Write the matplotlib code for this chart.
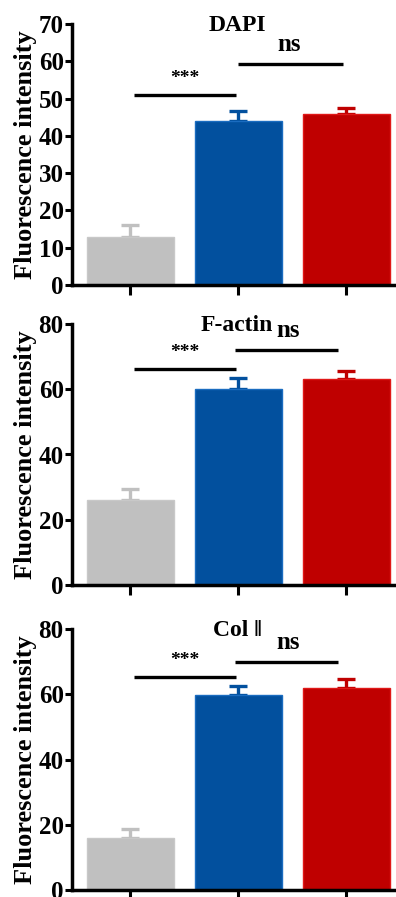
#!/usr/bin/env python3
"""Fluorescence intensity bar panels (DAPI, F-actin, Col II)."""

import matplotlib
matplotlib.use("Agg")
import matplotlib.pyplot as plt

# ---------------------------------------------------------------------
# Data
# ---------------------------------------------------------------------
titles = ["DAPI", "F-actin", "Col \u2016"]
groups = ["Control", "Group A", "Group B"]
means = [
    [12.8, 43.9, 45.9],
    [26.0, 60.0, 63.0],
    [15.9, 59.9, 61.9],
]
errs = [
    [3.4, 2.7, 1.6],
    [3.3, 3.3, 2.5],
    [2.7, 2.5, 2.8],
]
ylims = [70, 80, 80]
ytick_steps = [10, 20, 20]
# significance brackets: (y of *** line, y of ns line)
sig_star_y = [51.0, 66.3, 65.2]
sig_ns_y = [59.2, 72.1, 70.0]

colors = ["#C0C0C0", "#02509E", "#BF0000"]
edges = ["#C8C8C8", "#1A6CC0", "#E01818"]

plt.rcParams["font.family"] = ["Liberation Serif", "DejaVu Serif"]
plt.rcParams["font.weight"] = "bold"

W, H = 396, 897
fig = plt.figure(figsize=(W / 100, H / 100), dpi=100)

# axes rows in pixels: (top, bottom)
rows = [(24, 285), (324, 585), (629, 890)]
left_px = 72
ax_w_px = W - left_px

for i, (top, bot) in enumerate(rows):
    ax = fig.add_axes([left_px / W, 1 - bot / H, ax_w_px / W, (bot - top) / H])
    x = list(range(len(groups)))
    ax.bar(x, means[i], width=0.8, color=colors, edgecolor=edges,
           linewidth=1.0, zorder=2)
    for xi, m, e, c in zip(x, means[i], errs[i], colors):
        ax.errorbar(xi, m, yerr=[[0], [e]], fmt="none", ecolor=c,
                    elinewidth=2.4, capsize=6.5, capthick=2.4, zorder=1)

    ax.set_xlim(-0.54, 2.46)
    ax.set_ylim(0, ylims[i])
    ax.set_yticks(range(0, ylims[i] + 1, ytick_steps[i]))
    ax.set_xticks(x)
    ax.set_xticklabels([])

    for s in ["top", "right"]:
        ax.spines[s].set_visible(False)
    for s in ["left", "bottom"]:
        ax.spines[s].set_linewidth(2.5)
    ax.tick_params(axis="y", width=2.2, length=5, labelsize=18, pad=1)
    ax.tick_params(axis="x", width=2.2, length=7)
    for lab in ax.get_yticklabels():
        lab.set_fontweight("bold")

    ax.set_ylabel("Fluorescence intensity", fontsize=19, fontweight="bold")
    ax.yaxis.set_label_coords(-35 / ax_w_px, 0.5)
    ax.text(0.51, 0.975, titles[i], transform=ax.transAxes, ha="center",
            va="baseline", fontsize=17, fontweight="bold")

    # significance lines
    ys = sig_star_y[i]
    yn = sig_ns_y[i]
    ax.plot([0.03, 0.98], [ys, ys], color="black", lw=2.4, solid_capstyle="butt")
    ax.text(0.5, ys + ylims[i] * 0.03, "***", ha="center", va="bottom",
            fontsize=14, fontweight="bold")
    ax.plot([1.0, 1.97] if i == 0 else [0.97, 1.92], [yn, yn], color="black",
            lw=2.4, solid_capstyle="butt")
    ax.text(1.47 if i == 0 else 1.46, yn + ylims[i] * 0.03, "ns", ha="center",
            va="bottom", fontsize=18, fontweight="bold")

fig.savefig("out.png", dpi=100)
